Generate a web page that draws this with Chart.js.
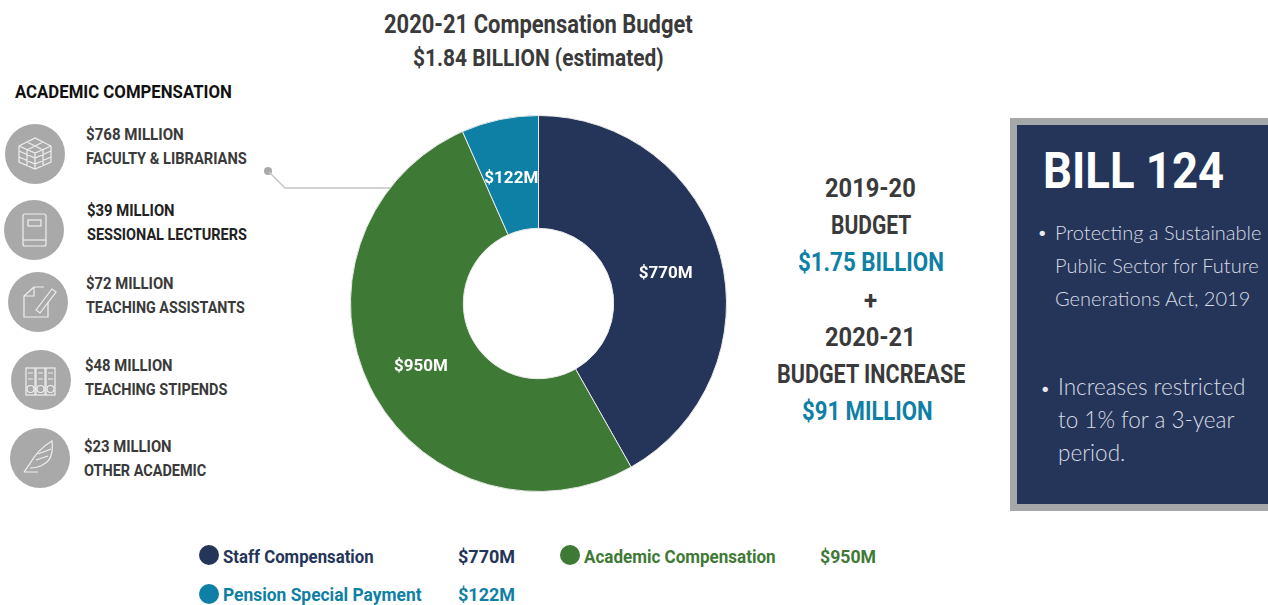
<!DOCTYPE html>
<html>
<head>
<meta charset="utf-8">
<title>2020-21 Compensation Budget</title>
<script src="https://cdn.jsdelivr.net/npm/chart.js@4/dist/chart.umd.min.js"></script>
<style>
html, body { margin: 0; padding: 0; background: #fff; overflow: hidden; }
#page { position: relative; width: 1268px; height: 605px; overflow: hidden; font-family: "Roboto", sans-serif; font-weight: bold; color: #3a3a3a; }
.t { position: absolute; white-space: nowrap; line-height: 1; transform-origin: left center; z-index: 2; }
#chart-box { position: absolute; left: 350px; top: 115px; width: 377px; height: 377px; }
#art { position: absolute; left: 0; top: 0; }
#panel { position: absolute; left: 1010px; top: 118px; width: 258px; height: 393px; box-sizing: border-box; background: #25355a; border: 7px solid #a5a7a9; border-right: 0; }
.body { font-family: "Lato", sans-serif; font-weight: 300; color: #d8dce4; }
</style>
</head>
<body>
<div id="page">
  <svg id="art" width="1268" height="605"></svg>
  <div id="chart-box"><canvas id="donut" width="377" height="377"></canvas></div>
  <div id="panel"></div>
</div>
<script>
const categories = ['Staff Compensation', 'Academic Compensation', 'Pension Special Payment'];
const values = [770, 950, 122];
const colors = ['#25355a', '#3f7936', '#0f80a5'];

const academicAmounts = ['$768 MILLION', '$39 MILLION', '$72 MILLION', '$48 MILLION', '$23 MILLION'];
const academicNames = ['FACULTY & LIBRARIANS', 'SESSIONAL LECTURERS', 'TEACHING ASSISTANTS', 'TEACHING STIPENDS', 'OTHER ACADEMIC'];

const titleLines = ['2020-21 Compensation Budget', '$1.84 BILLION (estimated)'];
const middleLines = ['2019-20', 'BUDGET', '$1.75 BILLION', '+', '2020-21', 'BUDGET INCREASE', '$91 MILLION'];
const middleTeal = [2, 6];

var page = document.getElementById('page');
var art = document.getElementById('art');

// no narrow font here, so squeeze each text to the width it has in the picture
function text(str, x, y, size, color, width, cls) {
    var d = document.createElement('div');
    d.className = 't ' + (cls || '');
    d.textContent = str;
    d.style.left = x + 'px';
    d.style.top = y + 'px';
    d.style.fontSize = size + 'px';
    if (color) d.style.color = color;
    page.appendChild(d);
    var sx = width ? width / d.offsetWidth : 1;
    d.style.transform = 'translateY(-50%) scaleX(' + sx + ')';
    return d;
}

function svg(markup) {
    art.insertAdjacentHTML('beforeend', markup);
}

// titles
text(titleLines[0], 384, 24, 25, '#3a3a3a', 309);
text(titleLines[1], 413, 58, 23, '#3a3a3a', 251);

// academic list
text('ACADEMIC COMPENSATION', 15, 91, 19, '#111', 217);
var listX = [86, 87, 86, 85, 84];
var listY = [135, 211, 284, 366, 447];
var amountW = [98, 88, 88, 88, 88];
var nameW = [161, 160, 159, 142, 122];
var iconX = [35, 34, 38, 41, 40];
var iconY = [154, 230, 302, 380, 458];
for (var i = 0; i < academicAmounts.length; i++) {
    text(academicAmounts[i], listX[i], listY[i], 16, i == 1 ? '#222' : '#3a3a3a', amountW[i]);
    text(academicNames[i], listX[i], listY[i] + 24, 16, i == 1 ? '#222' : '#3a3a3a', nameW[i]);
    svg('<circle cx="' + iconX[i] + '" cy="' + iconY[i] + '" r="30" fill="#a9a9a9"/>');
}

// icons, white outline drawings
var s = 'fill="none" stroke="#eee" stroke-width="1.2"';
svg('<g ' + s + ' transform="translate(35 154)"><path d="M-16 -8 L0 -16 L16 -8 L16 8 L0 15 L-16 8 Z M-16 -8 L0 -1 L16 -8 M0 -1 L0 15 M-16 -3 L0 4 L16 -3 M-16 3 L0 10 L16 3 M-8 -5 L-8 12 M8 -5 L8 12 M-8 -12 L8 -4 M8 -12 L-8 -4"/></g>');
svg('<g ' + s + ' transform="translate(34 230)"><rect x="-11" y="-16" width="23" height="32" rx="2"/><rect x="-6" y="-10" width="13" height="6"/><path d="M-11 10 L12 10"/></g>');
svg('<g ' + s + ' transform="translate(38 302)"><path d="M-4 -15 L-14 -6 L-14 15 L10 15 L10 0 M-4 -15 L6 -15 M-14 -6 L-4 -6 L-4 -15"/><path d="M-2 8 L14 -13 L18 -10 L2 11 Z"/></g>');
svg('<g ' + s + ' transform="translate(41 380)"><rect x="-15" y="-12" width="9" height="27"/><rect x="-5" y="-12" width="9" height="27"/><rect x="5" y="-12" width="9" height="27"/><circle cx="-10.5" cy="9" r="3.5"/><circle cx="-0.5" cy="9" r="3.5"/><circle cx="9.5" cy="9" r="3.5"/><path d="M-13 -7 L-8 -7 M-3 -7 L2 -7 M7 -7 L12 -7 M-13 -1 L-8 -1 M-3 -1 L2 -1 M7 -1 L12 -1"/></g>');
svg('<g ' + s + ' transform="translate(40 458)"><path d="M-16 14 C-8 4 -4 -8 12 -17 C13 -8 12 2 4 6 C0 9 -6 10 -10 10 M-16 14 L-2 14 M-4 2 L8 -2 M-2 -4 L11 -9"/></g>');

// leader line to the academic slice
svg('<circle cx="268" cy="171" r="4" fill="#a9a9a9"/><path d="M269 172 L285 188 L390 188" fill="none" stroke="#c4c4c4" stroke-width="1.4"/>');

// middle column
var middleX = [825, 831, 798, 864, 825, 777, 802];
var middleW = [91, 80, 146, 13, 91, 188, 131];
var middleY = [188, 225, 262, 300, 337, 374, 411];
for (var m = 0; m < middleLines.length; m++) {
    var col = middleTeal.indexOf(m) >= 0 ? '#0f80a5' : '#3a3a3a';
    text(middleLines[m], middleX[m], middleY[m], 26, col, middleW[m]);
}

// bottom legend
var legendX = [209, 570, 209];
var legendY = [555, 555, 594];
var legendTextY = [557, 557, 595];
var nameW2 = [151, 192, 199];
var valueX = [458, 820, 458];
var valueW = [57, 56, 57];
for (var l = 0; l < categories.length; l++) {
    svg('<circle cx="' + legendX[l] + '" cy="' + legendY[l] + '" r="10" fill="' + colors[l] + '"/>');
    text(categories[l], legendX[l] + 14, legendTextY[l], 18, colors[l], nameW2[l]);
    text('$' + values[l] + 'M', valueX[l], legendTextY[l], 18, colors[l], valueW[l]);
}

// Bill 124 panel
text('BILL 124', 1043, 171, 50, '#fff', 181);
var bodyLines = [
    ['Protecting a Sustainable', 1055, 232, 20],
    ['Public Sector for Future', 1055, 265, 20],
    ['Generations Act, 2019', 1055, 298, 20],
    ['Increases restricted', 1058, 387, 22.5],
    ['to 1% for a 3-year', 1058, 420, 22.5],
    ['period.', 1058, 453, 22.5]
];
for (var b = 0; b < bodyLines.length; b++) {
    var ln = bodyLines[b];
    text(ln[0], ln[1], ln[2], ln[3], null, 0, 'body');
}
text('•', 1037, 232, 18, '#e8eaf0', 0, 'body');
text('•', 1040, 388, 18, '#e8eaf0', 0, 'body');

// slice labels
var sliceLabels = {
    id: 'sliceLabels',
    afterDatasetsDraw: function (chart) {
        var ctx = chart.ctx;
        var arcs = chart.getDatasetMeta(0).data;
        ctx.font = 'bold 17px Roboto';
        ctx.fillStyle = '#fff';
        ctx.textAlign = 'center';
        ctx.textBaseline = 'middle';
        arcs.forEach(function (arc, idx) {
            var p = arc.tooltipPosition();
            ctx.fillText('$' + values[idx] + 'M', p.x, p.y + 4);
        });
    }
};

new Chart(document.getElementById('donut').getContext('2d'), {
    type: 'doughnut',
    data: {
        labels: categories,
        datasets: [{ data: values, backgroundColor: colors, borderColor: '#e8e8e8', borderWidth: 1 }]
    },
    options: {
        responsive: false,
        animation: false,
        cutout: '40%',
        plugins: { legend: { display: false }, tooltip: { enabled: false } }
    },
    plugins: [sliceLabels]
});
</script>
</body>
</html>
